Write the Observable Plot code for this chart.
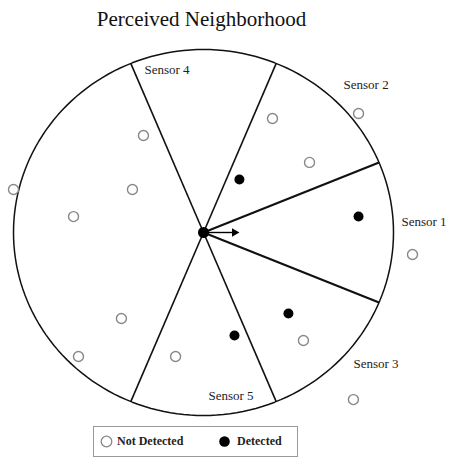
<!DOCTYPE html>
<html>
<head>
<meta charset="utf-8">
<script src="https://cdn.jsdelivr.net/npm/d3@7"></script>
<script src="https://cdn.jsdelivr.net/npm/@observablehq/plot@0.6"></script>
<style>
  html, body { margin: 0; padding: 0; background: #fff; }
  #wrap { position: relative; width: 449px; height: 458px; overflow: hidden; font-family: "Liberation Serif", "Times New Roman", serif; }
  #title { position: absolute; left: 0; top: 0; width: 403px; height: 38px; line-height: 38px; text-align: center; font-size: 21px; color: #111; }
  #chart { position: absolute; left: 0; top: 38px; }
  #legend { position: absolute; left: 93px; top: 426px; width: 203px; height: 29px; border: 1px solid #999; font-size: 12px; font-weight: bold; color: #222; }
  #legend .item { position: absolute; top: 0; height: 29px; line-height: 29px; }
  #legend svg { position: absolute; top: 8px; }
</style>
</head>
<body>
<div id="wrap">
  <div id="title"></div>
  <div id="chart"></div>
  <div id="legend"></div>
</div>
<script>
const titleText = "Perceived Neighborhood";
// sector boundary angles (degrees, 0 = heading direction)
const sectorBoundaries = [22.5, -22.5, 67.5, -67.5, 112.5, -112.5];
const sensor1Boundaries = [22.5, -22.5];
// neighbour positions, in units of the neighbourhood radius
const notDetected = [
  {x: 0.816, y: 0.650}, {x: 0.363, y: 0.623}, {x: 0.558, y: 0.383},
  {x: -0.316, y: 0.530}, {x: -0.374, y: 0.235}, {x: -1.0, y: 0.235},
  {x: -0.684, y: 0.087}, {x: 1.100, y: -0.120}, {x: 0.526, y: -0.590},
  {x: -0.432, y: -0.470}, {x: -0.658, y: -0.678}, {x: -0.147, y: -0.678},
  {x: 0.789, y: -0.913}
];
const detected = [
  {x: 0.189, y: 0.290}, {x: 0.816, y: 0.087},
  {x: 0.447, y: -0.443}, {x: 0.163, y: -0.563}
];
const selfNode = [{x: 0, y: 0}];
const heading = [{x1: 0, y1: 0, x2: 0.163, y2: 0}];
const sensorLabels = [
  {name: "Sensor 1", x: 1.042, y: 0.060},
  {name: "Sensor 2", x: 0.737, y: 0.809},
  {name: "Sensor 3", x: 0.789, y: -0.716},
  {name: "Sensor 4", x: -0.311, y: 0.891},
  {name: "Sensor 5", x: 0.026, y: -0.891}
];
const legendLabels = ["Not Detected", "Detected"];

document.getElementById("title").textContent = titleText;

const rad = d => d * Math.PI / 180;
const outline = d3.range(0, 361, 2).map(a => ({x: Math.cos(rad(a)), y: Math.sin(rad(a))}));
const spokes = sectorBoundaries.map(a => ({a, x1: 0, y1: 0, x2: Math.cos(rad(a)), y2: Math.sin(rad(a)), thick: sensor1Boundaries.includes(a)}));

const plot = Plot.plot({
  width: 449,
  height: 384,
  margin: 0,
  x: {domain: [-1, 1], range: [13, 393], axis: null},
  y: {domain: [-1, 1], range: [377, 11], axis: null},
  style: {fontFamily: "Liberation Serif, Times New Roman, serif", background: "white"},
  marks: [
    Plot.line(outline, {x: "x", y: "y", stroke: "#111", strokeWidth: 1.5}),
    Plot.link(spokes, {x1: "x1", y1: "y1", x2: "x2", y2: "y2", stroke: "#111", strokeWidth: d => d.thick ? 2.2 : 1.6}),
    Plot.dot(notDetected, {x: "x", y: "y", r: 5, fill: "white", stroke: "#888", strokeWidth: 1.4}),
    Plot.dot(detected, {x: "x", y: "y", r: 5, fill: "#000"}),
    Plot.link(heading, {x1: "x1", y1: "y1", x2: "x2", y2: "y2", stroke: "#000", strokeWidth: 1.4}),
    Plot.dot(heading, {x: "x2", y: "y2", symbol: "triangle", rotate: 90, r: 3.2, fill: "#000"}),
    Plot.dot(selfNode, {x: "x", y: "y", r: 5.5, fill: "#000"}),
    Plot.text(sensorLabels, {x: "x", y: "y", text: "name", textAnchor: "start", fontSize: 13, fill: "#222"})
  ]
});
document.getElementById("chart").appendChild(plot);

// legend
const legend = document.getElementById("legend");
const sym = [
  {left: 6, fill: "white", stroke: "#888", textLeft: 23},
  {left: 124, fill: "#000", stroke: "none", textLeft: 143}
];
legendLabels.forEach((label, i) => {
  const s = sym[i];
  const svg = d3.create("svg").attr("width", 13).attr("height", 13)
    .style("left", s.left + "px");
  svg.append("circle").attr("cx", 6.5).attr("cy", 6.5).attr("r", 5.3)
    .attr("fill", s.fill).attr("stroke", s.stroke).attr("stroke-width", 1.3);
  legend.appendChild(svg.node());
  const t = document.createElement("div");
  t.className = "item";
  t.style.left = s.textLeft + "px";
  t.textContent = label;
  legend.appendChild(t);
});
</script>
</body>
</html>
